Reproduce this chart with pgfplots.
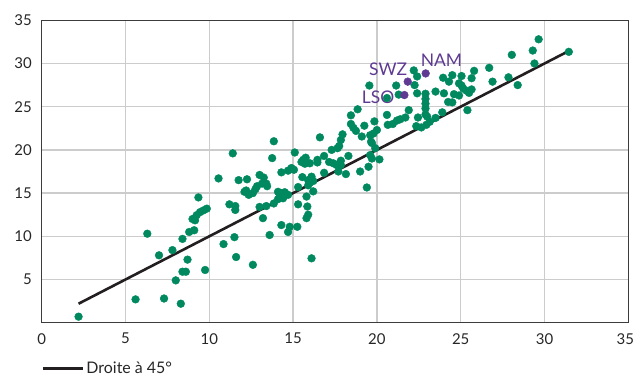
\documentclass[border=0pt]{standalone}
\usepackage{fontspec}
\setmainfont{Lato}
\usepackage{pgfplots}
\pgfplotsset{compat=1.18}
\usetikzlibrary{calc}
\definecolor{dotgreen}{RGB}{0,137,94}
\definecolor{purp}{RGB}{94,58,146}
\definecolor{axgray}{RGB}{60,60,60}
\definecolor{gridgray}{RGB}{204,204,204}
\definecolor{linek}{RGB}{35,31,32}
\pgfplotstableread{
x y
2.2 0.7
5.6 2.7
6.3 10.3
7.0 7.8
7.3 2.8
7.8 8.4
8.0 4.9
8.3 2.2
8.4 9.7
8.4 5.9
8.6 5.9
8.7 7.3
8.8 10.5
9.1 10.7
9.0 12.0
9.15 11.85
9.25 12.45
9.45 12.8
9.65 13.0
9.85 13.2
9.35 14.5
9.75 6.1
10.55 16.7
10.85 9.1
11.2 13.7
11.5 9.9
11.55 13.5
11.55 13.05
11.6 7.6
11.4 19.6
11.75 16.5
12.25 16.6
12.2 15.3
12.1 15.15
12.35 14.8
12.6 15.0
12.6 6.7
12.75 15.45
12.85 15.8
13.0 17.1
13.25 16.8
13.15 16.1
13.4 16.1
13.45 15.8
13.0 13.4
13.4 13.5
13.2 12.1
13.6 10.15
13.85 13.8
13.85 21.0
13.75 19.05
14.1 15.15
14.3 15.0
14.5 15.1
14.7 14.8
14.2 14.6
14.4 14.4
14.1 14.3
14.3 11.3
14.8 11.1
15.25 11.1
14.7 10.5
14.3 17.4
14.7 17.6
14.9 17.9
15.05 17.7
15.1 19.7
15.3 15.7
15.3 13.7
15.5 18.6
15.6 18.85
15.75 19.1
15.7 18.4
16.0 18.45
16.45 18.85
15.55 16.85
15.9 16.5
16.1 16.9
16.2 16.4
16.0 16.2
15.9 15.9
16.2 15.2
15.8 14.6
15.85 13.45
15.9 12.5
15.8 12.1
16.1 7.45
16.6 21.45
16.85 19.3
16.45 18.55
17.15 18.6
17.4 18.45
17.6 18.25
17.85 18.75
17.85 18.25
18.3 19.3
17.7 17.5
18.15 17.2
16.85 17.35
17.95 21.8
17.85 21.15
17.75 20.45
17.65 20.2
17.3 20.0
18.45 24.0
18.85 24.7
18.45 23.0
18.6 22.55
18.75 22.2
19.25 22.8
19.1 21.55
19.6 21.7
19.8 21.9
20.0 22.3
19.85 23.3
19.7 20.8
19.9 20.2
19.65 20.95
19.6 19.4
19.7 19.0
20.15 18.9
19.0 17.5
19.5 18.05
19.4 15.65
19.55 27.45
20.6 26.0
20.6 24.05
20.65 22.9
20.95 23.0
21.2 23.4
21.4 23.55
21.7 23.75
21.9 24.6
21.15 27.45
21.3 26.4
22.2 29.2
22.4 28.5
22.25 27.5
22.4 26.55
22.45 23.75
22.35 22.75
22.65 22.6
22.95 22.9
23.15 23.25
23.0 23.85
22.9 26.5
22.9 25.9
22.9 25.35
22.9 24.8
22.9 24.1
23.5 26.75
23.5 23.7
23.9 24.35
24.0 26.55
24.6 26.45
24.9 26.3
24.25 25.55
24.5 25.5
25.4 24.6
23.95 28.35
24.3 27.9
24.5 28.65
25.05 28.55
24.9 27.7
25.05 27.45
25.15 27.1
25.35 26.85
25.65 27.0
25.5 26.6
25.65 28.3
25.8 29.15
26.7 29.5
26.9 27.9
27.85 28.4
28.4 27.5
28.05 31.0
29.3 31.5
29.4 30.0
29.65 32.8
31.45 31.35
}\greendata
\pgfplotstableread{
x y
21.84 27.9
22.91 28.85
21.64 26.35
}\purpledata
\begin{document}
\begin{tikzpicture}
\begin{axis}[
  scale only axis, width=586.6bp, height=302.4bp,
  xmin=0, xmax=35, ymin=0, ymax=35,
  xtick={0,5,...,35}, ytick={5,10,...,35},
  grid=major, major grid style={gridgray, line width=1.3bp},
  axis line style={axgray, line width=1.3bp},
  major tick length=0pt,
  tick label style={font=\fontsize{15}{18}\selectfont, text=black!85},
  /pgf/number format/assume math mode=true,
  xticklabel={\ifdim\tick pt>32pt\hspace*{-6bp}\fi\pgfmathprintnumber{\tick}},
  xticklabel style={yshift=-7bp},
  yticklabel style={xshift=-6.5bp},
  legend style={at={(0,0)}, anchor=west, yshift=-45.5bp, draw=none, fill=none,
    inner sep=0pt, text=black!85,
    nodes={font=\fontsize{16}{18}\selectfont, inner ysep=0pt}},
  legend cell align=left,
  legend image code/.code={\draw[#1] (0bp,0bp) -- (40bp,0bp);},
]
\addplot[only marks, mark=*, color=dotgreen, mark size=3.9bp, mark options={solid, draw=none, fill=dotgreen}, forget plot] table[x=x,y=y] {\greendata};
\addplot[linek, line width=2.6bp] coordinates {(2.2,2.2) (31.45,31.45)};
\addlegendentry{Droite à 45°}
\addplot[only marks, mark=*, color=purp, mark size=3.9bp, mark options={solid, draw=none, fill=purp}, forget plot] table[x=x,y=y] {\purpledata};
\node[anchor=base east, inner sep=0pt, text=purp, font=\fontsize{17.5}{20}\selectfont, xshift=-0.5bp, yshift=5.7bp] at (axis cs:21.84,27.9) {SWZ};
\node[anchor=base west, inner sep=0pt, text=purp, font=\fontsize{17.5}{20}\selectfont, xshift=-5bp, yshift=6.5bp] at (axis cs:22.91,28.85) {NAM};
\node[anchor=base east, inner sep=0pt, text=purp, font=\fontsize{17.5}{20}\selectfont, xshift=-10bp, yshift=-8.4bp] at (axis cs:21.64,26.35) {LSO};
\end{axis}
\pgfresetboundingbox
\path ($(current axis.south west)+(-41.7bp,-53.3bp)$) rectangle ($(current axis.north east)+(6.7bp,20.3bp)$);
\end{tikzpicture}
\end{document}
